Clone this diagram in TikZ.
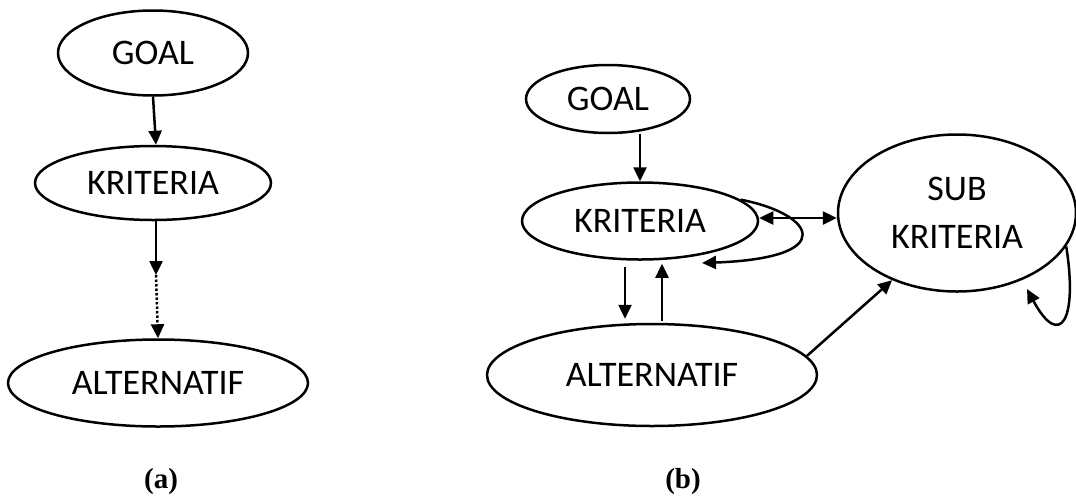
\documentclass[tikz,border=0pt]{standalone}
\usepackage{fontspec}
\setmainfont{Carlito}
\newfontfamily\labfont{Liberation Serif}
\usetikzlibrary{shapes.geometric,arrows.meta}
\begin{document}
\begin{tikzpicture}[x=1pt,y=-1pt,
  ell/.style={draw,ellipse,line width=2.5pt,inner sep=0pt,font=\fontsize{36}{48}\selectfont,align=center},
  arr/.style={line width=2.5pt,-{Triangle[length=14pt,width=13pt]}},
  darr/.style={line width=2.5pt,{Triangle[length=14pt,width=13pt]}-{Triangle[length=14pt,width=13pt]}},
  dotarr/.style={line width=2.5pt,dotted,-{Triangle[length=14pt,width=13pt]}},
  lab/.style={font=\labfont\bfseries\fontsize{29}{32}\selectfont}]
\useasboundingbox (0,0) rectangle (1076,496);
% panel (a)
\node[ell,minimum width=190pt,minimum height=85pt] (ga) at (153,53) {GOAL};
\node[ell,minimum width=236pt,minimum height=74pt] (ka) at (153,183) {KRITERIA};
\node[ell,minimum width=300pt,minimum height=87pt] (aa) at (158,383) {ALTERNATIF};
\coordinate (ma) at (156,275);
\draw[arr] (ga.south) -- ([xshift=3pt]ka.north);
\draw[arr] ([xshift=3pt]ka.south) -- (ma);
\draw[dotarr] (ma) -- (aa.north);
\node[lab] (la) at (161,482) {(a)};
% panel (b)
\node[ell,minimum width=164pt,minimum height=68pt] (gb) at (608,99) {GOAL};
\node[ell,minimum width=236pt,minimum height=77pt] (kb) at (640,221) {KRITERIA};
\node[ell,minimum width=330pt,minimum height=102pt] (ab) at (652,375) {ALTERNATIF};
\node[ell,minimum width=238pt,minimum height=157pt] (sb) at (957,213) {SUB\\KRITERIA};
\coordinate (kloop) at (702,263);
\coordinate (sloop) at (1027,289);
\draw[arr] (gb.south -| kb.north) -- (kb.north);
\draw[darr] (kb.east |- 0,218) -- (sb.west |- 0,218);
\draw[arr] (kb.12) .. controls (815,214) and (840,258) .. (kloop);
\draw[arr] ([xshift=-15pt,yshift=-6pt]kb.south) -- ([xshift=-27pt,yshift=4pt]ab.north);
\draw[arr] ([xshift=10pt,yshift=2pt]ab.north) -- ([xshift=22pt,yshift=-3pt]kb.south);
\draw[arr] (ab.7) -- (sb.-134);
\draw[arr] (sb.-17) .. controls (1078,320) and (1060,350) .. (sloop);
\node[lab] (lb) at (683,482) {(b)};
\end{tikzpicture}
\end{document}
